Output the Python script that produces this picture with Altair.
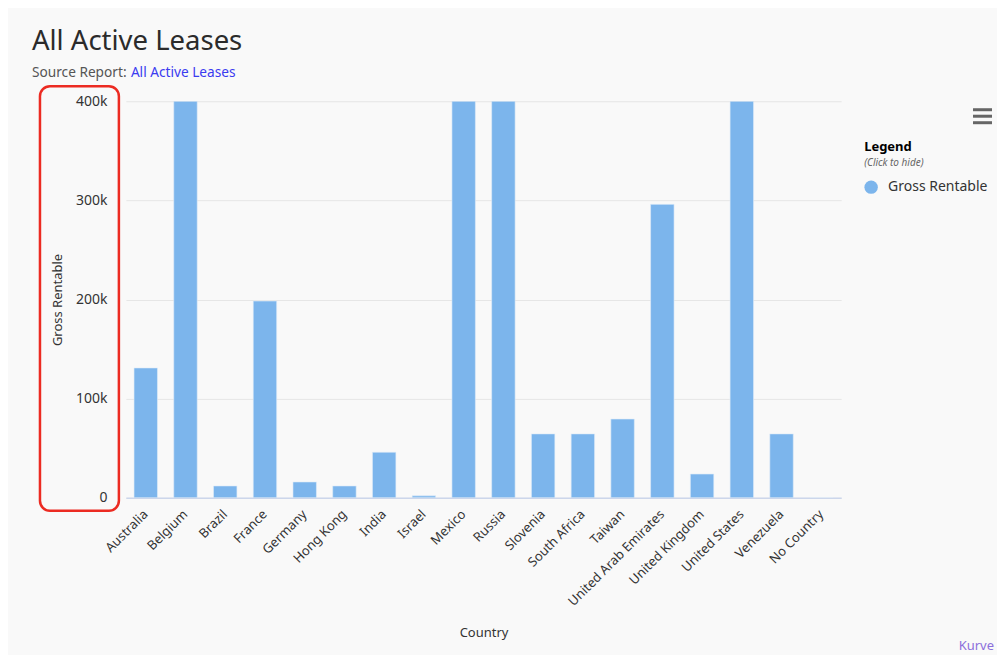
import altair as alt
import pandas as pd

countries = ["Australia", "Belgium", "Brazil", "France", "Germany", "Hong Kong", "India",
             "Israel", "Mexico", "Russia", "Slovenia", "South Africa", "Taiwan",
             "United Arab Emirates", "United Kingdom", "United States", "Venezuela", "No Country"]
# values above 400k are cut off at the top of the reference chart
gross_rentable = [131000, 400000, 12000, 198500, 16000, 12000, 46000,
                  2000, 400000, 400000, 64500, 64500, 79500,
                  296000, 24000, 400000, 64500, 0]
series_name = "Gross Rentable"
y_ticks = [0, 100000, 200000, 300000, 400000]

FONT = "Noto Sans"
BAR = "#7cb5ec"

df = pd.DataFrame({"Country": countries, "value": gross_rentable, "series": series_name})

bars = alt.Chart(df).mark_bar(clip=True, stroke="#e0ecf8", strokeWidth=0.6).encode(
    x=alt.X("Country:N", sort=countries,
            scale=alt.Scale(paddingInner=0.41, paddingOuter=0.205),
            axis=alt.Axis(title="Country", labelAngle=-45, labelAlign="right",
                          labelBaseline="middle", labelPadding=14, ticks=False, tickSize=0,
                          domainColor="#ccd6eb", domainWidth=1.5, labelColor="#333333",
                          labelFontSize=13, labelFont=FONT, titleFont=FONT,
                          titleFontSize=13, titleFontWeight="normal", titleColor="#333333",
                          titleX=358, titleY=139, titleAlign="center",
                          titleBaseline="alphabetic", grid=False)),
    y=alt.Y("value:Q", scale=alt.Scale(domain=[0, 400000], nice=False),
            axis=alt.Axis(title="Gross Rentable", values=y_ticks,
                          labelExpr="datum.value == 0 ? '0' : format(datum.value, '~s')",
                          ticks=False, tickSize=0, domain=False, labelPadding=19,
                          labelColor="#333333", labelFontSize=14, labelFont=FONT,
                          gridColor="#e6e6e6", gridWidth=1,
                          titleFont=FONT, titleFontSize=13, titleFontWeight="normal",
                          titleColor="#333333", titleX=-68, titleY=198.5,
                          titleAlign="center", titleBaseline="middle")),
    color=alt.Color("series:N", scale=alt.Scale(range=[BAR]),
                    legend=alt.Legend(title="Legend", orient="none", legendX=739, legendY=40,
                                      titleFont=FONT, titleFontSize=13, titleFontWeight="bold",
                                      titleColor="#000000", titlePadding=26,
                                      symbolType="circle", symbolSize=180,
                                      symbolStrokeWidth=0, labelFont=FONT, labelFontSize=14,
                                      labelColor="#333333", labelOffset=10, padding=0)),
)

one = pd.DataFrame({"a": [0]})

title = alt.Chart(one).mark_text(align="left", baseline="alphabetic", fontSize=27.5,
                                 font=FONT, color="#2b2b2b").encode(
    x=alt.value(-94), y=alt.value(-51), text=alt.value("All Active Leases"))
sub1 = alt.Chart(one).mark_text(align="left", baseline="alphabetic", fontSize=13.7,
                                font=FONT, color="#555555").encode(
    x=alt.value(-94), y=alt.value(-24), text=alt.value("Source Report:"))
sub2 = alt.Chart(one).mark_text(align="left", baseline="alphabetic", fontSize=13.7,
                                font=FONT, color="#3b3bf0").encode(
    x=alt.value(5), y=alt.value(-24), text=alt.value("All Active Leases"))
hint = alt.Chart(one).mark_text(align="left", baseline="alphabetic", fontSize=10,
                                font=FONT, fontStyle="italic", color="#666666").encode(
    x=alt.value(739), y=alt.value(65), text=alt.value("(Click to hide)"))
kurve = alt.Chart(one).mark_text(align="right", baseline="alphabetic", fontSize=13,
                                 font=FONT, color="#8c6fdc").encode(
    x=alt.value(869), y=alt.value(549), text=alt.value("Kurve"))

menu = [alt.Chart(one).mark_rule(strokeWidth=3, color="#666666").encode(
    x=alt.value(848), x2=alt.value(867), y=alt.value(yy)) for yy in (8.5, 15, 21.5)]

frame = alt.Chart(one).mark_rect(fill=None, stroke="#ec2b22", strokeWidth=2.5,
                                 cornerRadius=10).encode(
    x=alt.value(-86), x2=alt.value(-7), y=alt.value(-15), y2=alt.value(410))

chart = alt.layer(bars, title, sub1, sub2, hint, kurve, *menu, frame).properties(
    width=716, height=397,
    background="#f9f9f9",
    autosize=alt.AutoSizeParams(type="none"),
    padding={"left": 118, "top": 93, "right": 156, "bottom": 157},
).configure_view(stroke=None)

chart.save("out.html", embed_options={"renderer": "svg", "actions": False})
